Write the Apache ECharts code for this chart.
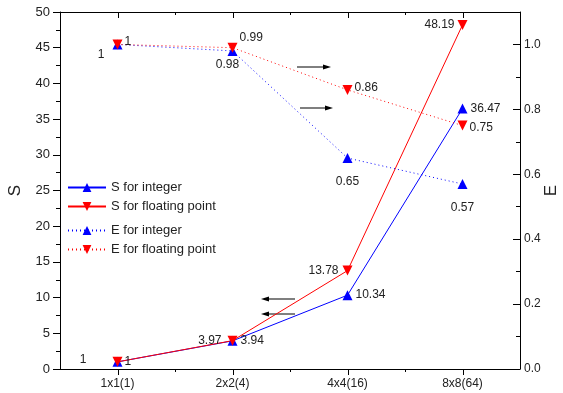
<!DOCTYPE html>
<html>
<head>
<meta charset="utf-8">
<script src="https://cdn.jsdelivr.net/npm/echarts@6/dist/echarts.min.js"></script>
<style>
  html, body { margin: 0; padding: 0; background: #fff; }
  #chart { width: 563px; height: 393px; }
</style>
</head>
<body>
<div id="chart"></div>
<script>
// 数据
const categories = ['1x1(1)', '2x2(4)', '4x4(16)', '8x8(64)'];
const sInteger = [1, 3.94, 10.34, 36.47];
const sFloat = [1, 3.97, 13.78, 48.19];
const eInteger = [1, 0.98, 0.65, 0.57];
const eFloat = [1, 0.99, 0.86, 0.75];

const FONT = 'Liberation Sans, Arial, sans-serif';
const TXT = '#222';
const GRID = { left: 60, right: 43, top: 12, bottom: 24 };

// 每个点的标签位置
const pointLabels = (values, places) => values.map((v, i) => ({
    value: v,
    label: Object.assign({ show: true, color: TXT, fontSize: 12, fontFamily: FONT,
        formatter: () => String(v) }, places[i])
}));

const chart = echarts.init(document.getElementById('chart'));

// 外框与 x 轴刻度（按网格尺寸换算）
const W = chart.getWidth(), H = chart.getHeight();
const x0 = GRID.left, x1 = W - GRID.right;
const yTop = GRID.top, yBot = H - GRID.bottom;
const band = (x1 - x0) / categories.length;
const px = v => Math.round(v) + 0.5;
const seg = (ax, ay, bx, by) => ({
    type: 'line',
    shape: { x1: ax, y1: ay, x2: bx, y2: by },
    style: { stroke: '#000', lineWidth: 1 }
});
const frame = [seg(x0, px(yTop), x1, px(yTop))];
categories.forEach((c, i) => {
    const xc = px(x0 + band * (i + 0.5));
    frame.push(seg(xc, yBot, xc, yBot + 6));
    frame.push(seg(xc, yTop, xc, yTop + 6));
    if (i > 0) {
        const xb = px(x0 + band * i);
        frame.push(seg(xb, yBot, xb, yBot + 3));
        frame.push(seg(xb, yTop, xb, yTop + 3));
    }
});

// 箭头标注
const arrows = [
    { type: 'line', shape: { x1: 297, y1: 67, x2: 326, y2: 67 }, style: { stroke: '#000', lineWidth: 1 } },
    { type: 'polygon', shape: { points: [[331, 67], [323, 64.5], [323, 69.5]] }, style: { fill: '#000' } },
    { type: 'line', shape: { x1: 300, y1: 108, x2: 327, y2: 108 }, style: { stroke: '#555', lineWidth: 1.5 } },
    { type: 'polygon', shape: { points: [[333, 108], [325, 105.5], [325, 110.5]] }, style: { fill: '#000' } },
    { type: 'line', shape: { x1: 295, y1: 299, x2: 267, y2: 299 }, style: { stroke: '#555', lineWidth: 1.5 } },
    { type: 'polygon', shape: { points: [[261, 299], [269, 296.5], [269, 301.5]] }, style: { fill: '#000' } },
    { type: 'line', shape: { x1: 295, y1: 314, x2: 267, y2: 314 }, style: { stroke: '#000', lineWidth: 1 } },
    { type: 'polygon', shape: { points: [[261, 314], [269, 311.5], [269, 316.5]] }, style: { fill: '#000' } }
];

chart.setOption({
    animation: false,
    grid: Object.assign({ outerBoundsMode: 'none' }, GRID),
    legend: [
        {
            orient: 'vertical', left: 62, top: 176, itemWidth: 38, itemHeight: 11, itemGap: 6,
            textStyle: { fontSize: 13, color: TXT, fontFamily: FONT },
            data: ['S for integer', 'S for floating point']
        },
        {
            orient: 'vertical', left: 62, top: 219, itemWidth: 38, itemHeight: 11, itemGap: 6,
            textStyle: { fontSize: 13, color: TXT, fontFamily: FONT },
            data: ['E for integer', 'E for floating point']
        }
    ],
    xAxis: {
        type: 'category', data: categories, position: 'bottom',
        axisLine: { show: true, onZero: false, lineStyle: { color: '#000', width: 1 } },
        axisTick: { show: false },
        axisLabel: { color: TXT, fontSize: 12, fontFamily: FONT, margin: 9 }
    },
    yAxis: [
        {
            type: 'value', min: 0, max: 50, interval: 5, position: 'left',
            name: 'S', nameLocation: 'middle', nameGap: 36, nameRotate: 90, nameMoveOverlap: false,
            nameTextStyle: { fontSize: 17, color: TXT, fontFamily: FONT },
            axisLine: { show: true, lineStyle: { color: '#000' } },
            axisTick: { show: true, length: 7, lineStyle: { color: '#000' } },
            minorTick: { show: true, splitNumber: 2, length: 4, lineStyle: { color: '#000' } },
            axisLabel: { color: TXT, fontSize: 13, fontFamily: FONT, margin: 10 },
            splitLine: { show: false }
        },
        {
            type: 'value', min: 0, max: 1.1, interval: 0.2, position: 'right',
            name: 'E', nameLocation: 'middle', nameGap: 23, nameRotate: 90, nameMoveOverlap: false,
            nameTextStyle: { fontSize: 17, color: TXT, fontFamily: FONT },
            axisLine: { show: true, lineStyle: { color: '#000' } },
            axisTick: { show: true, inside: true, length: 7, lineStyle: { color: '#000' } },
            minorTick: { show: true, splitNumber: 2, length: 4, lineStyle: { color: '#000' } },
            axisLabel: { color: TXT, fontSize: 12, fontFamily: FONT, margin: 4, showMaxLabel: false,
                formatter: v => (v > 1.05 ? '' : v.toFixed(1)) },
            splitLine: { show: false }
        }
    ],
    series: [
        {
            name: 'S for integer', type: 'line', yAxisIndex: 0,
            symbol: 'triangle', symbolSize: 10,
            itemStyle: { color: '#0000ff' }, lineStyle: { color: '#0000ff', width: 1 },
            data: pointLabels(sInteger, [
                { position: 'right', distance: 2 },
                { position: 'right', distance: 3 },
                { position: 'right', distance: 3 },
                { position: 'right', distance: 3 }
            ])
        },
        {
            name: 'S for floating point', type: 'line', yAxisIndex: 0,
            symbol: 'triangle', symbolRotate: 180, symbolSize: 10,
            itemStyle: { color: '#ff0000' }, lineStyle: { color: '#ff0000', width: 1 },
            data: pointLabels(sFloat, [
                { position: 'left', distance: 26, offset: [0, -2] },
                { position: 'left', distance: 6 },
                { position: 'left', distance: 4 },
                { position: 'left', distance: 3 }
            ])
        },
        {
            name: 'E for integer', type: 'line', yAxisIndex: 1,
            symbol: 'triangle', symbolSize: 10,
            itemStyle: { color: '#0000ff' }, lineStyle: { color: '#0000ff', width: 1, type: [1, 3] },
            data: pointLabels(eInteger, [
                { position: 'left', distance: 8, offset: [0, 10] },
                { position: 'bottom', distance: 3, offset: [-5, 0] },
                { position: 'bottom', distance: 13 },
                { position: 'bottom', distance: 13 }
            ])
        },
        {
            name: 'E for floating point', type: 'line', yAxisIndex: 1,
            symbol: 'triangle', symbolRotate: 180, symbolSize: 10,
            itemStyle: { color: '#ff0000' }, lineStyle: { color: '#ff0000', width: 1, type: [1, 3] },
            data: pointLabels(eFloat, [
                { position: 'right', distance: 2, offset: [0, -3] },
                { position: 'right', distance: 2, offset: [0, -10] },
                { position: 'right', distance: 2, offset: [0, -2] },
                { position: 'right', distance: 2, offset: [0, 2] }
            ])
        }
    ],
    graphic: frame.concat(arrows)
});

window.addEventListener('resize', () => chart.resize());
</script>
</body>
</html>
